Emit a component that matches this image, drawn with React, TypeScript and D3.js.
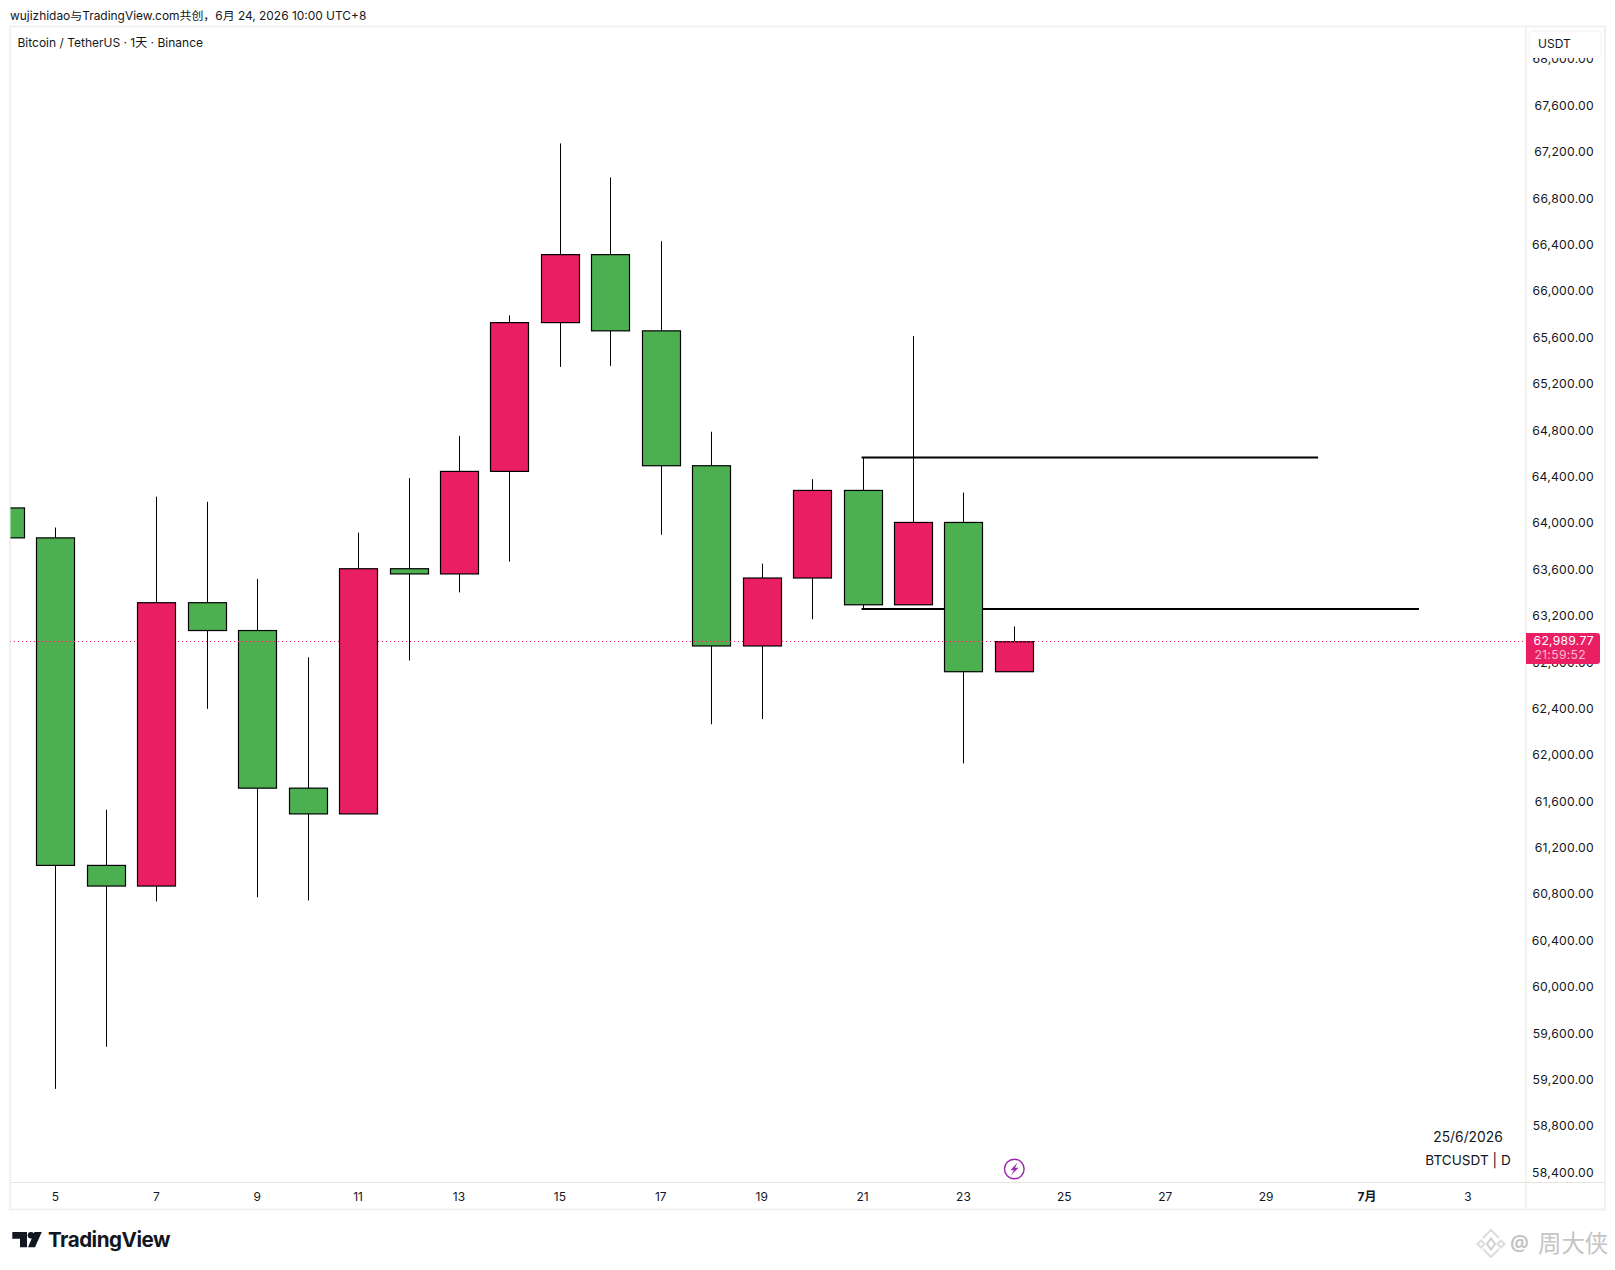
import React from "react";
import * as d3 from "d3";

const days = [4, 5, 6, 7, 8, 9, 10, 11, 12, 13, 14, 15, 16, 17, 18, 19, 20, 21, 22, 23, 24];
const opens = [64143, 63885, 61061, 60883, 63326, 63086, 61727, 61505, 63619, 63574, 64458, 65741, 66327, 65670, 64507, 62953, 63539, 64294, 63308, 64018, 62731];
const closes = [63885, 61061, 60883, 63326, 63086, 61727, 61505, 63619, 63574, 64458, 65741, 66327, 65670, 64507, 62953, 63539, 64294, 63308, 64018, 62731, 62989.77];
const highs = [64143, 63974, 61541, 64240, 64196, 63530, 62855, 63930, 64400, 64764, 65803, 67286, 66993, 66443, 64800, 63663, 64391, 64578, 65626, 64276, 63121];
const lows = [63885, 59134, 59498, 60750, 62411, 60786, 60759, 61505, 62828, 63415, 63681, 65359, 65368, 63912, 62278, 62322, 63184, 63264, 63308, 61940, 62731];

const priceTicks = d3.range(58400, 68001, 400);
const dayTicks: [number, string, boolean][] = [
  [5, "5", false], [7, "7", false], [9, "9", false], [11, "11", false], [13, "13", false],
  [15, "15", false], [17, "17", false], [19, "19", false], [21, "21", false], [23, "23", false],
  [25, "25", false], [27, "27", false], [29, "29", false], [31, "7月", true], [33, "3", false],
];
const levelLines = [
  { price: 64578, fromDay: 21, toDay: 30.03 },
  { price: 63272, fromDay: 21, toDay: 32.03 },
];
const lastPrice = 62989.77;

const UI = "Inter, 'Noto Sans CJK SC', sans-serif";
const PINK = "#e91e63";
const GREEN = "#4caf50";
const INK = "#131722";
const FRAME = "#f0f0f0";
const AXIS = "#e6e6df";

const W = 1615;
const H = 1270;
const L = 10.5;
const R = 1526;
const T = 26.5;
const B = 1182.5;
const FB = 1209.5;
const FR = 1605;

const x = d3.scaleLinear().domain([5, 33]).range([55.45, 1467.91]);
const y = d3.scaleLinear().domain([lastPrice, 67600]).range([641.7, 107]);
const fmt = d3.format(",.2f");
const BODY = 38;

export default function App() {
  const lastY = Math.floor(y(lastPrice)) + 0.5;
  return (
    <svg
      width={W}
      height={H}
      viewBox={`0 0 ${W} ${H}`}
      style={{ position: "absolute", left: 0, top: 0, background: "#fff", display: "block" }}
      fontFamily={UI}
    >
      <defs>
        <clipPath id="pane"><rect x={L} y={T} width={R - L} height={B - T} /></clipPath>
        <clipPath id="priceAxis"><rect x={R} y={58} width={FR - R} height={B - 58} /></clipPath>
      </defs>

      <text x={10} y={19.5} fontSize={11.93} fill={INK}>wujizhidao与TradingView.com共创，6月 24, 2026 10:00 UTC+8</text>

      <rect x={L - 0.5} y={T} width={FR - L + 0.5} height={FB - T} fill="none" stroke={FRAME} strokeWidth={1.8} />
      <line x1={L} x2={FR} y1={B} y2={B} stroke={AXIS} strokeWidth={1} />
      <line x1={R} x2={R} y1={T} y2={FB} stroke={AXIS} strokeWidth={1} />

      <text x={17.5} y={47} fontSize={12} fill={INK}>Bitcoin / TetherUS · 1天 · Binance</text>

      <g clipPath="url(#pane)">
        {levelLines.map((l) => (
          <line key={l.price} x1={x(l.fromDay) - 1} x2={x(l.toDay)} y1={y(l.price)} y2={y(l.price)} stroke="#000" strokeWidth={2} />
        ))}
        {days.map((d, i) => {
          const cx = Math.round(x(d)) + 0.5;
          const top = y(Math.max(opens[i], closes[i]));
          const bot = y(Math.min(opens[i], closes[i]));
          return (
            <g key={d}>
              <line x1={cx} x2={cx} y1={y(highs[i])} y2={y(lows[i])} stroke="#000" strokeWidth={1} />
              <rect
                x={cx - BODY / 2}
                y={top}
                width={BODY}
                height={bot - top}
                fill={closes[i] >= opens[i] ? PINK : GREEN}
                stroke="#000"
                strokeWidth={1.2}
              />
            </g>
          );
        })}
        <line x1={10} x2={R} y1={lastY} y2={lastY} stroke={PINK} strokeWidth={1} strokeDasharray="1 3" shapeRendering="crispEdges" />
      </g>

      <g clipPath="url(#priceAxis)">
        {priceTicks.map((p) => (
          <text key={p} x={1594} y={y(p) + 2.8} textAnchor="end" fontSize={12.2} letterSpacing={0.25} fill={INK}>{fmt(p)}</text>
        ))}
      </g>

      <rect x={1529} y={31} width={72} height={26} rx={4} fill="#fff" stroke="#f2f2f2" strokeWidth={1} />
      <text x={1538} y={48} fontSize={12} fill={INK}>USDT</text>

      <path d="M1526 633H1597a3 3 0 0 1 3 3V661a3 3 0 0 1 -3 3H1526Z" fill={PINK} />
      <text x={1594} y={645} textAnchor="end" fontSize={12.2} letterSpacing={0.25} fill="#fff">{fmt(lastPrice)}</text>
      <text x={1586} y={659} textAnchor="end" fontSize={12.2} letterSpacing={0.3} fill="#fff" fillOpacity={0.7}>21:59:52</text>

      {dayTicks.map(([d, label, bold]) => (
        <text key={label} x={x(d)} y={1200.5} textAnchor="middle" fontSize={12} fontWeight={bold ? 700 : 400} fill={INK}>{label}</text>
      ))}

      <text x={1468} y={1142} textAnchor="middle" fontSize={13.8} fill={INK}>25/6/2026</text>
      <text x={1468} y={1165.3} textAnchor="middle" fontSize={13.6} fill={INK}>BTCUSDT | D</text>

      <circle cx={1014.3} cy={1169} r={9.8} fill="#fff" stroke="#9c27b0" strokeWidth={1.4} />
      <path d="M1017.5 1162.5L1010.5 1170.3H1014L1011 1175.5L1018.5 1167.7H1015Z" fill="#9c27b0" />

      <g fill={INK}>
        <path d="M12.3 1232H27V1247.3H20V1238.8H12.3Z" />
        <circle cx={31} cy={1235.2} r={3.3} />
        <path d="M34.5 1232H41.8L35 1247.3H28Z" />
      </g>
      <text x={48} y={1246.8} fontSize={20.6} fontWeight={700} letterSpacing={-0.5} fill={INK}>TradingView</text>

      <g fill="none" stroke="#dcdcdc" strokeWidth={2}>
        <path d="M1483 1238L1491 1230L1499 1238" />
        <path d="M1483 1249L1491 1257L1499 1249" />
        <path d="M1481 1240.5L1484.5 1244L1481 1247.5L1477.5 1244Z" />
        <path d="M1501 1240.5L1504.5 1244L1501 1247.5L1497.5 1244Z" />
        <path d="M1491 1238.5L1495 1244L1491 1249.5L1487 1244Z" stroke="#d0d0d0" />
      </g>
      <text x={1510} y={1251} fontSize={21} fontWeight={600} fill="#c2c2c2" fontFamily="'Noto Sans', sans-serif">@</text>
      <text x={1538} y={1252} fontSize={23.4} fill="#c4c4c4" fontFamily="'Noto Sans CJK SC', sans-serif">周大侠</text>
    </svg>
  );
}
